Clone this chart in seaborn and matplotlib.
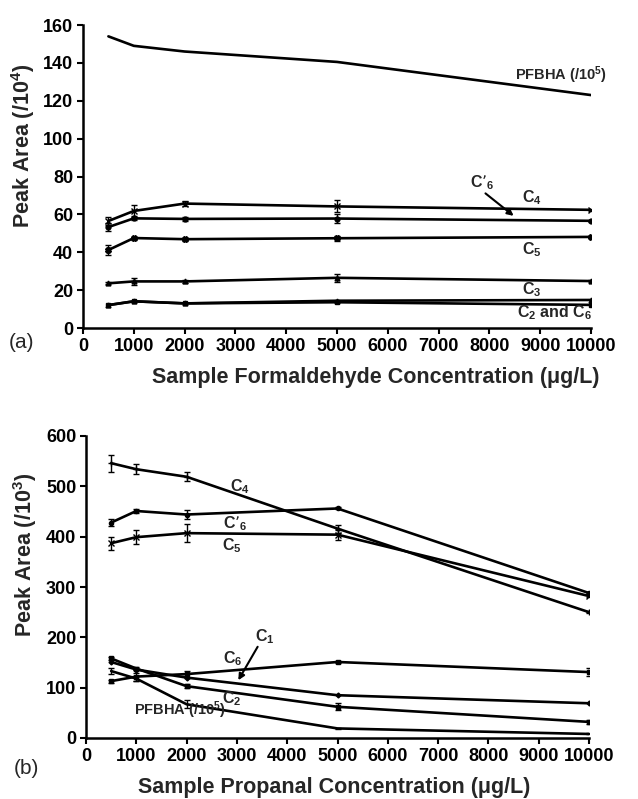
import matplotlib
matplotlib.use("Agg")
import matplotlib.pyplot as plt
import seaborn as sns
import pandas as pd
import numpy as np

sns.set_theme(style="ticks")
plt.rcParams['font.family'] = ['Liberation Sans', 'DejaVu Sans']
plt.rcParams['mathtext.default'] = 'regular'

# ---------- Panel (a): formaldehyde ----------
xa = [500, 1000, 2000, 5000, 10000]
a_pfbha = [154, 149, 146, 140.5, 123]
a_c4 = [56.5, 61.8, 65.7, 64.2, 62.4]
a_c6p = [53.3, 57.9, 57.6, 57.8, 56.6]
a_c5 = [41.2, 47.5, 46.9, 47.4, 48.1]
a_c3 = [23.6, 24.6, 24.6, 26.5, 24.8]
a_c2 = [12.1, 14.1, 13.0, 14.4, 14.8]
a_c6 = [12.1, 14.1, 13.0, 13.6, 12.2]
a_c4_err = [2.0, 3.0, 1.5, 3.2, 0.5]
a_c6p_err = [2.0, 1.0, 1.2, 2.5, 0.5]
a_c5_err = [2.5, 0.8, 0.8, 1.2, 0.5]
a_c3_err = [0.5, 2.0, 0.8, 2.0, 0.5]

# ---------- Panel (b): propanal ----------
xb = [500, 1000, 2000, 5000, 10000]
b_c4 = [546, 534, 519, 416, 250]
b_c6p = [428, 451, 444, 456, 288]
b_c5 = [387, 399, 407, 404, 282]
b_c6 = [113, 122, 127, 151, 131]
b_c1 = [151, 136, 120, 85, 69]
b_c2 = [158, 138, 103, 62, 32]
b_pfbha = [133, 118, 67, 19, 8]
b_c4_err = [17, 10, 9, 8, 2]
b_c6p_err = [7, 4, 8, 2, 2]
b_c5_err = [13, 14, 18, 10, 2]
b_c6_err = [3, 8, 7, 2, 8]
b_c2_err = [3, 3, 4, 7, 4]
b_pfbha_err = [6, 5, 8, 1, 1]

fig = plt.figure(figsize=(6.38, 7.99), dpi=100)
axa = fig.add_axes([83/638, 1-328/799, (591-83)/638, (328-25)/799])
axb = fig.add_axes([86/638, 1-738/799, (589-86)/638, (738-436)/799])

lw = 1.9
def draw(ax, x, y, marker, err=None, ms=4):
    df = pd.DataFrame({"x": x, "y": y})
    sns.lineplot(data=df, x="x", y="y", ax=ax, color="black", lw=lw,
                 marker=marker, markersize=ms, markeredgecolor="black",
                 markerfacecolor="black", markeredgewidth=1, legend=False)
    if err is not None:
        ax.errorbar(x, y, yerr=err, fmt="none", ecolor="black", elinewidth=1,
                    capsize=2.5, capthick=1)

draw(axa, xa, a_pfbha, None)
draw(axa, xa, a_c4, "x", a_c4_err)
draw(axa, xa, a_c6p, "o", a_c6p_err, ms=3.5)
draw(axa, xa, a_c5, "X", a_c5_err, ms=4)
draw(axa, xa, a_c3, "^", a_c3_err, ms=3.5)
draw(axa, xa, a_c2, "^", None, ms=3.5)
draw(axa, xa, a_c6, "s", None, ms=3.5)

draw(axb, xb, b_c4, "+", b_c4_err)
draw(axb, xb, b_c6p, "o", b_c6p_err, ms=3)
draw(axb, xb, b_c5, "x", b_c5_err)
draw(axb, xb, b_c6, "s", b_c6_err, ms=3)
draw(axb, xb, b_c1, "D", None, ms=2.5)
draw(axb, xb, b_c2, "s", b_c2_err, ms=3.5)
draw(axb, xb, b_pfbha, None, b_pfbha_err)

for ax, ymax, ystep in [(axa, 160, 20), (axb, 600, 100)]:
    ax.set_xlim(0, 10000)
    ax.set_ylim(0, ymax)
    ax.set_xticks(np.arange(0, 10001, 1000))
    ax.set_yticks(np.arange(0, ymax + 1, ystep))
    ax.set_xlabel("")
    ax.set_ylabel("")
    for s in ["top", "right"]:
        ax.spines[s].set_visible(False)
    for s in ["left", "bottom"]:
        ax.spines[s].set_linewidth(1.8)
        ax.spines[s].set_color("black")
    ax.tick_params(axis="both", direction="out", length=4, width=1.5,
                   color="black", labelcolor="black", pad=3)
    for lab in ax.get_xticklabels() + ax.get_yticklabels():
        lab.set_fontsize(13)
        lab.set_fontweight("bold")
    ax.set_facecolor("white")

# Panel (a) text
fig.text(23/638, 1-146/799, "Peak Area (/10$^4$)", rotation=90, ha="center",
         va="center", fontsize=15.5, fontweight="bold")
fig.text(376/638, 1-378/799, "Sample Formaldehyde Concentration (\u03bcg/L)",
         ha="center", va="center", fontsize=15.5, fontweight="bold")
fig.text(21/638, 1-342/799, "(a)", ha="center", va="center", fontsize=15)

lab = dict(fontsize=11.5, fontweight="bold", ha="center", va="center")
axa.text(9410, 133.5, "PFBHA (/10$^5$)", fontsize=10.5, fontweight="bold",
         ha="center", va="center")
axa.text(7850, 77, "C\u2019$_6$", **lab)
axa.annotate("", xy=(8520, 58.3), xytext=(7880, 72),
             arrowprops=dict(arrowstyle="-|>", color="black", lw=1.5,
                             mutation_scale=9))
axa.text(8830, 69, "C$_4$", **lab)
axa.text(8830, 41.5, "C$_5$", **lab)
axa.text(8830, 20.5, "C$_3$", **lab)
axa.text(9290, 8, "C$_2$ and C$_6$", **lab)

# Panel (b) text
fig.text(25/638, 1-555/799, "Peak Area (/10$^3$)", rotation=90, ha="center",
         va="center", fontsize=15.5, fontweight="bold")
fig.text(334/638, 1-787/799, "Sample Propanal Concentration (\u03bcg/L)",
         ha="center", va="center", fontsize=15.5, fontweight="bold")
fig.text(26/638, 1-768/799, "(b)", ha="center", va="center", fontsize=15)

axb.text(3060, 499, "C$_4$", **lab)
axb.text(2960, 426, "C\u2019$_6$", **lab)
axb.text(2900, 383, "C$_5$", **lab)
axb.text(3560, 201, "C$_1$", **lab)
axb.annotate("", xy=(3000, 110), xytext=(3440, 186),
             arrowprops=dict(arrowstyle="-|>", color="black", lw=1.5,
                             mutation_scale=9))
axb.text(2915, 158, "C$_6$", **lab)
axb.text(2900, 79, "C$_2$", **lab)
axb.text(1870, 56, "PFBHA (/10$^5$)", fontsize=10.5, fontweight="bold",
         ha="center", va="center")

fig.savefig("out.png", dpi=100, facecolor="white")
